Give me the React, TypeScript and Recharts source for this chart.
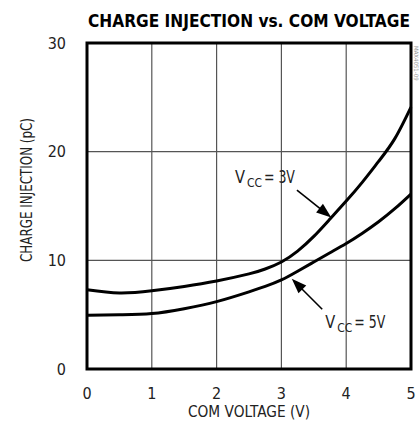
import React from 'react';
import { LineChart, Line, XAxis, YAxis, CartesianGrid, ReferenceLine, ReferenceArea, Label } from 'recharts';

const voltages = [0, 0.5, 1, 1.5, 2, 2.5, 2.75, 3, 3.25, 3.5, 3.75, 4, 4.25, 4.5, 4.75, 5];
const vcc3 = [7.3, 7.0, 7.2, 7.6, 8.1, 8.75, 9.2, 9.85, 10.85, 12.2, 13.8, 15.45, 17.2, 19.1, 21.2, 24.1];
const vcc5 = [4.95, 5.0, 5.1, 5.55, 6.2, 7.1, 7.6, 8.2, 9.0, 9.85, 10.7, 11.55, 12.5, 13.55, 14.75, 16.1];
const xTicks = [0, 1, 2, 3, 4, 5];
const yTicks = [0, 10, 20, 30];

const data = voltages.map((v, i) => ({ v, a: vcc3[i], b: vcc5[i] }));

const arrow3 = [{ x: 3.24, y: 16.45 }, { x: 3.77, y: 13.95 }];
const arrow5 = [{ x: 3.63, y: 5.5 }, { x: 3.16, y: 8.3 }];

const FONT = '"DejaVu Sans Condensed", "Liberation Sans", sans-serif';

function makeArrow(label: string, tx: number, ty: number) {
  return (props: any) => {
    const { x1, y1, x2, y2 } = props;
    const dx = x2 - x1;
    const dy = y2 - y1;
    const len = Math.sqrt(dx * dx + dy * dy);
    const ux = dx / len;
    const uy = dy / len;
    const hl = 15;
    const hw = 5.5;
    const bx = x2 - ux * hl;
    const by = y2 - uy * hl;
    const p1 = `${x2},${y2}`;
    const p2 = `${bx - uy * hw},${by + ux * hw}`;
    const p3 = `${bx + uy * hw},${by - ux * hw}`;
    const x0 = x1 + tx;
    const b = y1 + ty;
    return (
      <g>
        <line x1={x1} y1={y1} x2={bx + ux * 2} y2={by + uy * 2} stroke="#000" strokeWidth={1.6} />
        <polygon points={`${p1} ${p2} ${p3}`} fill="#000" />
        <text x={x0} y={b} fontFamily={FONT} fontSize={18} fill="#222" textLength={10} lengthAdjust="spacingAndGlyphs">
          V
        </text>
        <text x={x0 + 12} y={b + 4} fontFamily={FONT} fontSize={13} fill="#222" textLength={15} lengthAdjust="spacingAndGlyphs">
          CC
        </text>
        <text x={x0 + 29} y={b} fontFamily={FONT} fontSize={18} fill="#222" textLength={31} lengthAdjust="spacingAndGlyphs">
          {`= ${label}`}
        </text>
      </g>
    );
  };
}

export default function App() {
  return (
    <div style={{ position: 'absolute', left: 0, top: 0, width: 419, height: 430, background: '#fff' }}>
      <LineChart
        width={419}
        height={430}
        data={data}
        margin={{ top: 43, right: 8, bottom: 0, left: 0 }}
      >
        <text
          x={249}
          y={27}
          textAnchor="middle"
          fontFamily={FONT}
          fontWeight="bold"
          fontSize={17}
          fill="#000"
          textLength={322}
          lengthAdjust="spacingAndGlyphs"
        >
          CHARGE INJECTION vs. COM VOLTAGE
        </text>
        <text
          x={414}
          y={46}
          transform="rotate(90 414 46)"
          fontFamily={FONT}
          fontSize={6}
          fill="#999"
        >
          MAX4051-09
        </text>
        <CartesianGrid stroke="#555" strokeWidth={1.2} />
        <XAxis
          dataKey="v"
          type="number"
          domain={[0, 5]}
          ticks={xTicks}
          height={61}
          axisLine={false}
          tickLine={false}
          tickMargin={13}
          tick={{ fontFamily: FONT, fontSize: 16, fill: '#222' }}
        >
          <Label
            content={() => (
              <text
                x={249}
                y={417}
                textAnchor="middle"
                fontFamily={FONT}
                fontSize={16}
                fill="#222"
                textLength={122}
                lengthAdjust="spacingAndGlyphs"
              >
                COM VOLTAGE (V)
              </text>
            )}
          />
        </XAxis>
        <YAxis
          type="number"
          domain={[0, 30]}
          ticks={yTicks}
          width={87}
          axisLine={false}
          tickLine={false}
          tickMargin={15}
          tick={{ fontFamily: FONT, fontSize: 16, fill: '#222' }}
        >
          <Label
            content={() => {
              const cx = 26;
              const cy = 190;
              return (
                <text
                  x={cx}
                  y={cy}
                  transform={`rotate(-90 ${cx} ${cy})`}
                  textAnchor="middle"
                  dominantBaseline="central"
                  fontFamily={FONT}
                  fontSize={16}
                  fill="#222"
                  textLength={144}
                  lengthAdjust="spacingAndGlyphs"
                >
                  CHARGE INJECTION (pC)
                </text>
              );
            }}
          />
        </YAxis>
        <Line type="natural" dataKey="a" stroke="#000" strokeWidth={3} dot={false} isAnimationActive={false} />
        <Line type="natural" dataKey="b" stroke="#000" strokeWidth={3} dot={false} isAnimationActive={false} />
        <ReferenceArea x1={0} x2={5} y1={0} y2={30} fill="none" stroke="#000" strokeWidth={3} ifOverflow="visible" />
        <ReferenceLine segment={arrow3} ifOverflow="visible" shape={makeArrow('3V', -62, -7)} />
        <ReferenceLine segment={arrow5} ifOverflow="visible" shape={makeArrow('5V', 3, 19)} />
      </LineChart>
    </div>
  );
}
